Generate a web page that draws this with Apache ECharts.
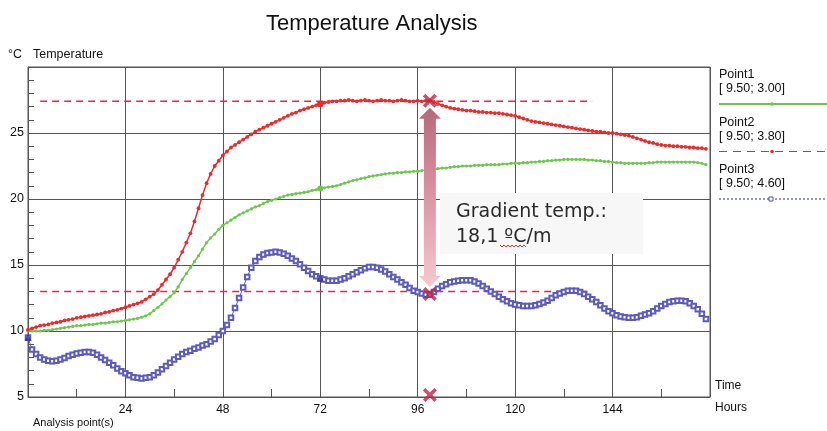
<!DOCTYPE html>
<html>
<head>
<meta charset="utf-8">
<title>Temperature Analysis</title>
<script src="https://cdn.jsdelivr.net/npm/echarts@6/dist/echarts.min.js"></script>
<style>
  html, body { margin: 0; padding: 0; background: #fff; }
  #chart { width: 827px; height: 431px; }
</style>
</head>
<body>
<div id="chart"></div>
<script>
// hourly readings, index = hour (0..167)
const point1 = [ // green, [9.50; 3.00]
  10.0,10.0,10.0,10.0,10.05,10.05,10.1,10.15,10.2,10.25,
  10.3,10.35,10.4,10.4,10.45,10.5,10.5,10.55,10.6,10.6,
  10.65,10.7,10.7,10.75,10.8,10.85,10.9,10.95,11.05,11.15,
  11.3,11.55,11.8,12.05,12.35,12.6,12.9,13.35,13.9,14.35,
  14.8,15.25,15.7,16.2,16.7,17.05,17.35,17.7,18.0,18.2,
  18.4,18.6,18.8,18.95,19.1,19.25,19.4,19.5,19.65,19.8,
  19.9,20.0,20.1,20.2,20.3,20.35,20.4,20.45,20.5,20.55,
  20.65,20.7,20.8,20.85,20.9,20.95,21.0,21.1,21.2,21.3,
  21.4,21.45,21.55,21.6,21.7,21.75,21.8,21.85,21.9,21.95,
  21.95,22.0,22.0,22.05,22.05,22.1,22.1,22.15,22.2,22.2,
  22.25,22.3,22.35,22.35,22.4,22.45,22.45,22.5,22.5,22.5,
  22.55,22.55,22.55,22.6,22.6,22.6,22.6,22.65,22.65,22.7,
  22.7,22.7,22.75,22.75,22.8,22.8,22.85,22.85,22.9,22.9,
  22.95,22.95,23.0,23.0,23.0,23.0,23.0,23.0,22.95,22.95,
  22.9,22.9,22.85,22.85,22.8,22.75,22.75,22.7,22.7,22.7,
  22.7,22.7,22.7,22.75,22.75,22.8,22.8,22.8,22.8,22.8,
  22.8,22.8,22.8,22.8,22.8,22.75,22.7,22.6
];
const point2 = [ // red, [9.50; 3.80]
  10.1,10.2,10.3,10.4,10.45,10.5,10.6,10.65,10.7,10.8,
  10.85,10.9,11.0,11.05,11.1,11.15,11.2,11.25,11.3,11.4,
  11.45,11.55,11.6,11.7,11.8,11.9,12.0,12.1,12.2,12.4,
  12.6,12.8,13.1,13.5,13.9,14.3,14.8,15.4,16.0,16.7,
  17.4,18.3,19.3,20.3,21.2,21.9,22.5,22.9,23.3,23.6,
  23.9,24.1,24.3,24.5,24.7,24.9,25.1,25.25,25.4,25.55,
  25.7,25.85,26.0,26.15,26.3,26.45,26.55,26.7,26.8,26.9,
  27.0,27.1,27.2,27.3,27.35,27.4,27.4,27.45,27.45,27.5,
  27.45,27.4,27.45,27.5,27.45,27.4,27.45,27.5,27.45,27.45,
  27.4,27.45,27.5,27.45,27.4,27.4,27.45,27.4,27.45,27.45,
  27.35,27.2,27.1,27.0,26.9,26.85,26.8,26.75,26.7,26.7,
  26.65,26.6,26.6,26.55,26.55,26.5,26.5,26.45,26.4,26.35,
  26.3,26.2,26.1,26.0,25.9,25.85,25.8,25.75,25.7,25.65,
  25.6,25.55,25.5,25.45,25.4,25.35,25.3,25.25,25.2,25.15,
  25.1,25.1,25.05,25.0,25.0,24.95,24.9,24.85,24.8,24.7,
  24.6,24.5,24.4,24.3,24.25,24.15,24.1,24.05,24.05,24.0,
  24.0,23.95,23.95,23.9,23.9,23.85,23.85,23.8
];
const point3 = [ // blue, [9.50; 4.60]
  9.5,8.6,8.25,8.0,7.85,7.75,7.7,7.75,7.85,7.95,
  8.1,8.2,8.3,8.35,8.4,8.4,8.35,8.2,8.0,7.8,
  7.6,7.4,7.15,6.95,6.8,6.65,6.5,6.45,6.4,6.45,
  6.5,6.65,6.85,7.1,7.35,7.6,7.85,8.05,8.25,8.4,
  8.5,8.65,8.75,8.9,9.0,9.2,9.4,9.7,10.0,10.45,
  11.0,11.75,12.5,13.3,14.1,14.8,15.3,15.6,15.8,15.9,
  15.95,16.0,15.95,15.85,15.7,15.5,15.3,15.05,14.8,14.55,
  14.3,14.15,14.0,13.9,13.8,13.8,13.8,13.9,14.0,14.15,
  14.3,14.45,14.6,14.75,14.85,14.85,14.8,14.65,14.5,14.3,
  14.1,13.9,13.7,13.5,13.25,13.05,12.95,12.85,12.75,12.75,
  12.95,13.2,13.4,13.55,13.7,13.75,13.8,13.85,13.85,13.85,
  13.75,13.6,13.4,13.2,13.0,12.8,12.6,12.4,12.25,12.1,
  12.0,11.95,11.9,11.9,11.9,11.95,12.05,12.15,12.3,12.5,
  12.7,12.85,12.95,13.05,13.05,13.05,12.95,12.8,12.6,12.4,
  12.2,11.95,11.7,11.5,11.35,11.2,11.1,11.05,11.0,11.0,
  11.05,11.15,11.25,11.35,11.5,11.7,11.9,12.05,12.2,12.25,
  12.3,12.3,12.25,12.1,11.9,11.65,11.3,10.9
];

const legendNames  = ['Point1', 'Point2', 'Point3'];
const legendCoords = ['[ 9.50; 3.00]', '[ 9.50; 3.80]', '[ 9.50; 4.60]'];

const refLevels  = [27.4, 13.0];     // dashed guide lines
const refSpan    = [3, 139];         // hours
const crossHour  = 99;
const crossTemps = [27.45, 12.8, 5.15];
const gradientLabel = ['Gradient temp.:', '18,1 ºC/m'];

const FONT = 'Liberation Sans, Arial, sans-serif';
const toPairs = vals => vals.map((v, i) => [i, v]);
const bigAt = (idx, big, small) => (val, p) => (p.dataIndex === idx ? big : small);

const chart = echarts.init(document.getElementById('chart'));

const refSeries = refLevels.map(lv => ({
  type: 'line',
  data: refSpan.map(h => [h, lv]),
  symbol: 'none',
  itemStyle: { color: '#ff1a44' },
  lineStyle: { color: '#ff1a44', width: 1.5, type: [7, 5] },
  z: 1,
  silent: true
}));

// legend block on the right
const legendColors = ['#6cc84c', '#f02828', '#5050bc'];
const legendDash   = ['solid', [8, 6], [2, 2]];
const legendGraphics = [];
legendNames.forEach((name, i) => {
  const top = 75 + i * 47.5;
  legendGraphics.push(
    { type: 'text', x: 719, y: top, style: { text: name, font: '12.5px ' + FONT, fill: '#111', verticalAlign: 'middle' } },
    { type: 'text', x: 719, y: top + 14, style: { text: legendCoords[i], font: '12.5px ' + FONT, fill: '#111', verticalAlign: 'middle' } },
    { type: 'line', shape: { x1: 719, y1: top + 29, x2: 827, y2: top + 29 },
      style: { stroke: legendColors[i], lineWidth: i === 0 ? 2 : 1.2, lineDash: legendDash[i] === 'solid' ? null : legendDash[i] } }
  );
  if (i === 2) {
    legendGraphics.push({ type: 'rect', shape: { x: 769, y: top + 27, width: 4, height: 4 },
      style: { fill: '#fff', stroke: legendColors[i], lineWidth: 1 } });
  } else {
    legendGraphics.push({ type: 'circle', shape: { cx: 772, cy: top + 29, r: 1.8 }, style: { fill: legendColors[i] } });
  }
});

chart.setOption({
  animation: false,
  backgroundColor: '#fff',
  title: {
    text: 'Temperature Analysis',
    left: 261, top: 8,
    textStyle: { fontFamily: FONT, fontSize: 22, fontWeight: 'normal', color: '#111' }
  },
  grid: { left: 28, right: 117, top: 67, bottom: 34, show: true, borderColor: '#555', borderWidth: 1 },
  xAxis: {
    type: 'value', min: 0, max: 168, interval: 24,
    axisLine: { show: true, onZero: false, lineStyle: { color: '#555' } },
    axisTick: { show: false, inside: true },
    minorTick: { show: true, splitNumber: 2, length: 8, lineStyle: { color: '#555' } },
    axisLabel: {
      fontFamily: FONT, fontSize: 12, color: '#111', margin: 7,
      formatter: v => (v === 0 || v === 168 ? '' : v)
    },
    splitLine: { show: true, lineStyle: { color: '#555' } }
  },
  yAxis: {
    type: 'value', min: 5, max: 30, interval: 5,
    axisLine: { show: true, lineStyle: { color: '#555' } },
    axisTick: { show: false, inside: true },
    minorTick: { show: true, splitNumber: 5, length: 6, lineStyle: { color: '#555' } },
    axisLabel: { fontFamily: FONT, fontSize: 12.5, color: '#111', margin: 4, showMaxLabel: false },
    splitLine: { show: true, lineStyle: { color: '#555' } }
  },
  series: [
    ...refSeries,
    {
      name: 'Point1', type: 'line', data: toPairs(point1),
      symbol: 'circle', symbolSize: bigAt(72, 6, 3.2), showSymbol: true, showAllSymbol: true,
      itemStyle: { color: '#6cc84c' }, lineStyle: { color: '#6cc84c', width: 1.5 }, z: 3
    },
    {
      name: 'Point2', type: 'line', data: toPairs(point2),
      symbol: 'circle', symbolSize: bigAt(72, 6.5, 3.8), showSymbol: true, showAllSymbol: true,
      itemStyle: { color: '#f02828' }, lineStyle: { color: '#f02828', width: 1.5 }, z: 3
    },
    {
      name: 'Point3', type: 'line', data: toPairs(point3),
      symbol: 'emptyRect', symbolSize: 4.5, showSymbol: true, showAllSymbol: true,
      itemStyle: { color: '#5a5ac4', borderWidth: 0.9 }, lineStyle: { color: '#5a5ac4', width: 1 }, z: 3
    },
    {
      // filled start/mid markers of Point3
      type: 'scatter', data: [[0, point3[0]], [72, point3[72]]],
      symbol: 'triangle', symbolSize: 7, itemStyle: { color: '#3030a0' }, z: 4, silent: true
    },
    {
      // gradient arrow between the two crosses
      type: 'custom', z: 5, silent: true,
      data: [[crossHour, crossTemps[0], crossTemps[1]]],
      renderItem: (params, api) => {
        const top = api.coord([api.value(0), api.value(1)]);
        const bot = api.coord([api.value(0), api.value(2)]);
        const cx = top[0], y1 = top[1] + 7, y2 = bot[1] - 7;
        const hw = 7.5, sw = 6, hh = 11;
        return {
          type: 'polygon',
          shape: { points: [
            [cx, y1], [cx + hw + 3.5, y1 + hh], [cx + sw, y1 + hh], [cx + sw, y2 - hh],
            [cx + hw + 3.5, y2 - hh], [cx, y2], [cx - hw - 3.5, y2 - hh], [cx - sw, y2 - hh],
            [cx - sw, y1 + hh], [cx - hw - 3.5, y1 + hh]
          ] },
          style: {
            fill: new echarts.graphic.LinearGradient(0, 0, 0, 1, [
              { offset: 0, color: '#b7687c' },
              { offset: 0.45, color: '#d9909f' },
              { offset: 1, color: '#f6c9d1' }
            ])
          }
        };
      }
    },
    {
      type: 'scatter', z: 6, silent: true, clip: false,
      data: crossTemps.map(t => [crossHour, t]),
      symbol: 'path://M0,2.5 L2.5,0 L7,4.5 L11.5,0 L14,2.5 L9.5,7 L14,11.5 L11.5,14 L7,9.5 L2.5,14 L0,11.5 L4.5,7 Z',
      symbolSize: 14, itemStyle: { color: '#c4203c' }
    }
  ],
  graphic: [
    { type: 'text', x: 8, y: 55, style: { text: '°C', font: '12.5px ' + FONT, fill: '#111', verticalAlign: 'middle' } },
    { type: 'text', x: 33, y: 55, style: { text: 'Temperature', font: '12.5px ' + FONT, fill: '#111', verticalAlign: 'middle' } },
    { type: 'text', x: 715, y: 386, style: { text: 'Time', font: '12px ' + FONT, fill: '#111', verticalAlign: 'middle' } },
    { type: 'text', x: 715, y: 408, style: { text: 'Hours', font: '12px ' + FONT, fill: '#111', verticalAlign: 'middle' } },
    { type: 'text', x: 33, y: 423, style: { text: 'Analysis point(s)', font: '11px ' + FONT, fill: '#111', verticalAlign: 'middle' } },
    ...legendGraphics,
    { type: 'rect', z: 50, shape: { x: 440, y: 193, width: 203, height: 61 }, style: { fill: '#f7f7f7' } },
    { type: 'text', z: 51, x: 456, y: 212, style: { text: gradientLabel[0], font: '19px DejaVu Sans', fill: '#2a2a2a', verticalAlign: 'middle' } },
    { type: 'text', z: 51, x: 456, y: 237, style: { text: gradientLabel[1], font: '19px DejaVu Sans', fill: '#2a2a2a', verticalAlign: 'middle' } },
    { type: 'polyline', z: 52, shape: { points: [[500, 245], [502, 247], [504, 245], [506, 247], [508, 245], [510, 247], [512, 245], [514, 247], [516, 245], [518, 247], [520, 245], [522, 247], [524, 245], [526, 247]] },
      style: { stroke: '#e02828', lineWidth: 1, fill: null } }
  ]
});
</script>
</body>
</html>
